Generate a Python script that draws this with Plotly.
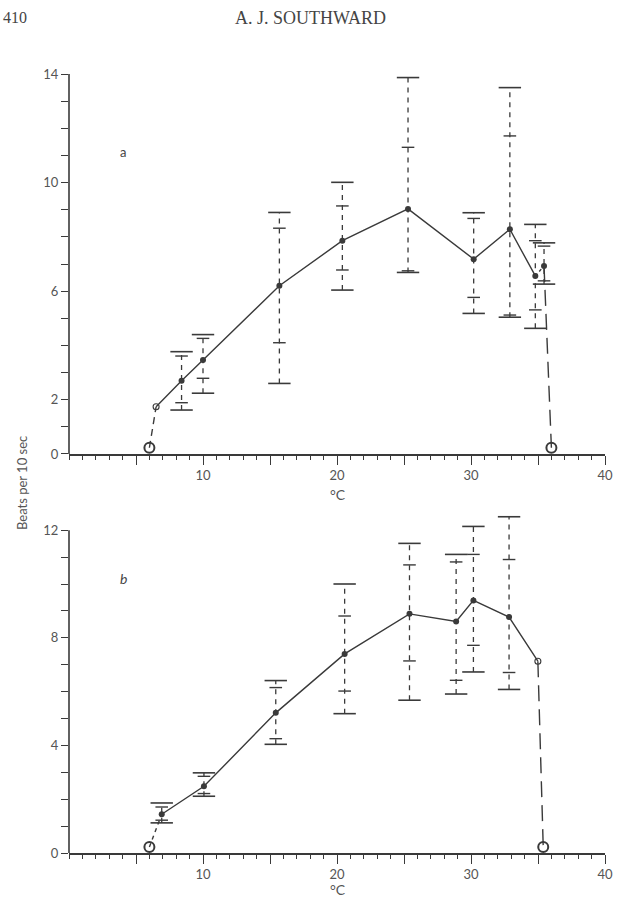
import plotly.graph_objects as go

# ---------------- Panel a data ----------------
a_x = [8.4, 10.0, 15.7, 20.4, 25.3, 30.2, 32.9, 34.8, 35.45]
a_y = [2.70, 3.46, 6.20, 7.86, 9.03, 7.18, 8.28, 6.56, 6.93]
a_hi = [3.77, 4.40, 8.90, 10.01, 13.87, 8.89, 13.50, 8.46, 7.78]
a_hi_in = [3.61, 4.26, 8.32, 9.14, 11.30, 8.68, 11.72, 7.86, 7.66]
a_lo_in = [1.89, 2.79, 4.10, 6.78, 6.75, 5.77, 5.12, 5.31, 6.38]
a_lo = [1.62, 2.24, 2.60, 6.04, 6.69, 5.18, 5.04, 4.63, 6.26]
a_open_small = (6.5, 1.74)      # small open circle
a_open_start = (6.0, 0.23)      # large open circle (cold limit)
a_open_end = (36.0, 0.23)       # large open circle (heat limit)

# ---------------- Panel b data ----------------
b_x = [6.92, 10.07, 15.43, 20.57, 25.41, 28.89, 30.18, 32.84]
b_y = [1.44, 2.48, 5.21, 7.40, 8.89, 8.61, 9.39, 8.77]
b_hi = [1.86, 2.98, 6.41, 10.00, 11.51, 11.10, 12.14, 12.50]
b_hi_in = [1.71, 2.85, 6.15, 8.81, 10.71, 10.82, 11.10, 10.91]
b_lo_in = [1.22, 2.21, 4.25, 6.02, 7.14, 6.42, 7.72, 6.71]
b_lo = [1.12, 2.11, 4.04, 5.18, 5.68, 5.91, 6.73, 6.08]
b_open_small = (34.99, 7.13)
b_open_start = (6.0, 0.22)
b_open_end = (35.39, 0.22)

x_labels = {10: "10", 20: "20", 30: "30", 40: "40"}
a_ylabels = {0: "0", 2: "2", 6: "6", 10: "10", 14: "14"}
b_ylabels = {0: "0", 4: "4", 8: "8", 12: "12"}
A_TOP, B_TOP = 14, 12

INK = "#3a3a3a"
TXT = "#555555"

fig = go.Figure()


def add_panel(xa, ya, xs, ys, hi, hi_in, lo_in, lo):
    # vertical dashed range lines
    vx, vy = [], []
    for x, l, h in zip(xs, lo, hi):
        vx += [x, x, None]
        vy += [l, h, None]
    fig.add_trace(go.Scatter(x=vx, y=vy, mode="lines", xaxis=xa, yaxis=ya,
                             line=dict(color=INK, width=1.3, dash="5px,5px"),
                             hoverinfo="skip"))
    # outer caps
    fig.add_trace(go.Scatter(x=xs + xs, y=hi + lo, mode="markers", xaxis=xa, yaxis=ya,
                             cliponaxis=False,
                             marker=dict(symbol="line-ew", size=16, color=INK,
                                         line=dict(color=INK, width=1.6)),
                             hoverinfo="skip"))
    # inner ticks
    fig.add_trace(go.Scatter(x=xs + xs, y=hi_in + lo_in, mode="markers", xaxis=xa, yaxis=ya,
                             cliponaxis=False,
                             marker=dict(symbol="line-ew", size=9, color=INK,
                                         line=dict(color=INK, width=1.4)),
                             hoverinfo="skip"))


def open_markers(xa, ya, pts, size, width):
    fig.add_trace(go.Scatter(x=[p[0] for p in pts], y=[p[1] for p in pts], mode="markers",
                             xaxis=xa, yaxis=ya, cliponaxis=False,
                             marker=dict(symbol="circle-open", size=size, color=INK,
                                         line=dict(color=INK, width=width))))


# ---- panel a lines ----
fig.add_trace(go.Scatter(x=[a_open_small[0]] + a_x[:-1], y=[a_open_small[1]] + a_y[:-1],
                         mode="lines", xaxis="x", yaxis="y",
                         line=dict(color=INK, width=1.4)))
fig.add_trace(go.Scatter(x=[a_open_start[0], a_open_small[0]], y=[a_open_start[1], a_open_small[1]],
                         mode="lines", xaxis="x", yaxis="y",
                         line=dict(color=INK, width=1.4, dash="7px,5px")))
fig.add_trace(go.Scatter(x=[a_x[-2], a_x[-1]], y=[a_y[-2], a_y[-1]],
                         mode="lines", xaxis="x", yaxis="y",
                         line=dict(color=INK, width=1.4, dash="3px,3px")))
fig.add_trace(go.Scatter(x=[a_x[-1], a_open_end[0]], y=[a_y[-1], a_open_end[1]],
                         mode="lines", xaxis="x", yaxis="y",
                         line=dict(color=INK, width=1.4, dash="16px,8px")))
add_panel("x", "y", a_x, a_y, a_hi, a_hi_in, a_lo_in, a_lo)
fig.add_trace(go.Scatter(x=a_x, y=a_y, mode="markers", xaxis="x", yaxis="y",
                         marker=dict(symbol="circle", size=6, color=INK)))
open_markers("x", "y", [a_open_small], 6, 1.1)
open_markers("x", "y", [a_open_start, a_open_end], 10, 2)

# ---- panel b lines ----
fig.add_trace(go.Scatter(x=b_x + [b_open_small[0]], y=b_y + [b_open_small[1]],
                         mode="lines", xaxis="x2", yaxis="y2",
                         line=dict(color=INK, width=1.4)))
fig.add_trace(go.Scatter(x=[b_open_start[0], b_x[0]], y=[b_open_start[1], b_y[0]],
                         mode="lines", xaxis="x2", yaxis="y2",
                         line=dict(color=INK, width=1.4, dash="4px,4px")))
fig.add_trace(go.Scatter(x=[b_open_small[0], b_open_end[0]], y=[b_open_small[1], b_open_end[1]],
                         mode="lines", xaxis="x2", yaxis="y2",
                         line=dict(color=INK, width=1.4, dash="16px,8px")))
add_panel("x2", "y2", b_x, b_y, b_hi, b_hi_in, b_lo_in, b_lo)
fig.add_trace(go.Scatter(x=b_x, y=b_y, mode="markers", xaxis="x2", yaxis="y2",
                         marker=dict(symbol="circle", size=6, color=INK)))
open_markers("x2", "y2", [b_open_small], 6, 1.1)
open_markers("x2", "y2", [b_open_start, b_open_end], 10, 2)

W, H = 630, 897
TICKFONT = dict(family="Lato, 'Open Sans', sans-serif", size=13, color=TXT)


def xaxis_cfg(anchor):
    vals = list(range(5, 41, 5))
    return dict(range=[0, 40], anchor=anchor, domain=[69 / W, 605 / W],
                automargin=False,
                showline=True, linecolor=INK, linewidth=1.6,
                showgrid=False, zeroline=False,
                ticks="outside", ticklen=9, tickwidth=1.4, tickcolor=INK,
                tickvals=vals, ticktext=[x_labels.get(v, "") for v in vals],
                tickfont=TICKFONT,
                minor=dict(ticks="outside", ticklen=4, tickwidth=1.2, tickcolor=INK,
                           tick0=0, dtick=1, showgrid=False))


def yaxis_cfg(anchor, top, rng_top, labels, y0px, pxunit):
    vals = list(range(0, top + 1))
    dom = [1 - y0px / H, 1 - (y0px - rng_top * pxunit) / H]
    return dict(range=[0, rng_top], anchor=anchor, domain=dom,
                automargin=False,
                showline=False,
                showgrid=False, zeroline=False,
                ticks="outside", ticklen=7, tickwidth=1.4, tickcolor=INK,
                tickvals=vals, ticktext=[labels.get(v, "") for v in vals],
                tickfont=TICKFONT)


fig.update_layout(
    width=W, height=H, autosize=False,
    margin=dict(l=0, r=0, t=0, b=0, pad=0, autoexpand=False),
    paper_bgcolor="white", plot_bgcolor="white",
    showlegend=False,
    xaxis=xaxis_cfg("y"),
    yaxis=yaxis_cfg("x", A_TOP, 14.3, a_ylabels, 454, 27.14),
    xaxis2=xaxis_cfg("y2"),
    yaxis2=yaxis_cfg("x2", B_TOP, 12.8, b_ylabels, 853, 26.9),
)

# y-axis lines stopping at the top labelled tick
fig.add_shape(type="line", xref="x domain", yref="y", x0=0, x1=0, y0=0, y1=A_TOP,
              line=dict(color=INK, width=1.6))
fig.add_shape(type="line", xref="x2 domain", yref="y2", x0=0, x1=0, y0=0, y1=B_TOP,
              line=dict(color=INK, width=1.6))

SERIF = "'Liberation Serif', 'DejaVu Serif', serif"
SANS = "Lato, 'Open Sans', sans-serif"
ann = [
    dict(text="410", x=1 / W, y=1 - 18 / H, xanchor="left", yanchor="middle",
         font=dict(family=SERIF, size=16, color="#444")),
    dict(text="A. J. SOUTHWARD",
         x=310 / W, y=1 - 18 / H, xanchor="center", yanchor="middle",
         font=dict(family=SERIF, size=18, color="#444")),
    dict(text="a", x=4.05, y=11.14, xref="x", yref="y", xanchor="center", yanchor="middle",
         font=dict(family=SANS, size=13, color="#444")),
    dict(text="<i>b</i>", x=4.07, y=10.2, xref="x2", yref="y2", xanchor="center", yanchor="middle",
         font=dict(family=SANS, size=14, color="#444")),
    dict(text="°C", x=338 / W, y=1 - 494 / H, xanchor="center", yanchor="middle",
         font=dict(family=SANS, size=14, color=TXT)),
    dict(text="°C", x=338 / W, y=1 - 889 / H, xanchor="center", yanchor="middle",
         font=dict(family=SANS, size=14, color=TXT)),
    dict(text="Beats per 10 sec", x=22 / W, y=1 - 483 / H, xanchor="center", yanchor="middle",
         textangle=-90, font=dict(family=SANS, size=13, color=TXT)),
]
for a in ann:
    a.setdefault("xref", "paper")
    a.setdefault("yref", "paper")
    a["showarrow"] = False
fig.update_layout(annotations=ann)

fig.write_html("out.html")
